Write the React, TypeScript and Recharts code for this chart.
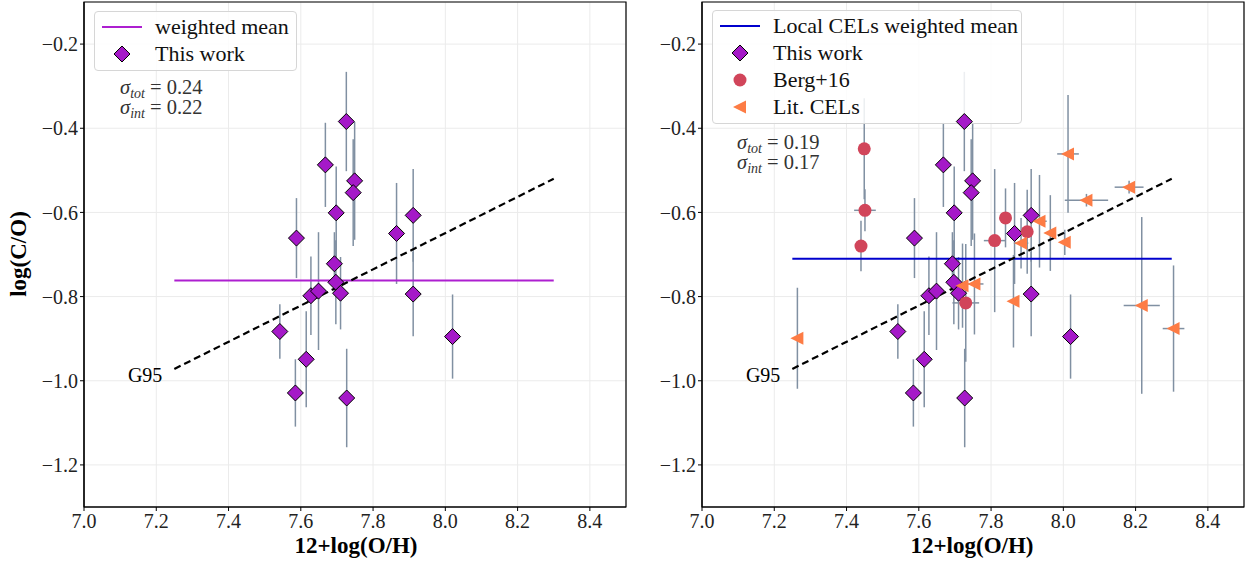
import React from 'react';
import { ScatterChart, Scatter, XAxis, YAxis, CartesianGrid, ErrorBar, ReferenceArea } from 'recharts';

// ---- data ----
const xTicks = [7.0, 7.2, 7.4, 7.6, 7.8, 8.0, 8.2, 8.4];
const yTicks = [-1.2, -1.0, -0.8, -0.6, -0.4, -0.2];
const xDomain = [7.0, 8.5];
const yDomain = [-1.3, -0.1];

const thisWorkOH = [7.726, 7.668, 7.749, 7.745, 7.698, 7.911, 7.865, 7.588, 7.693, 7.697, 7.71, 7.911, 7.628, 7.649, 7.542, 7.615, 7.585, 7.727, 8.02];
const thisWorkCO = [-0.384, -0.487, -0.525, -0.553, -0.601, -0.607, -0.65, -0.661, -0.722, -0.766, -0.792, -0.794, -0.798, -0.787, -0.883, -0.949, -1.029, -1.041, -0.895];
const thisWorkErr = [0.118, 0.1, 0.14, 0.127, 0.11, 0.11, 0.12, 0.095, 0.075, 0.1, 0.086, 0.1, 0.093, 0.14, 0.065, 0.114, 0.08, 0.117, 0.1];

const bergOH = [7.449, 7.451, 7.44, 7.84, 7.81, 7.9, 7.73];
const bergCO = [-0.449, -0.595, -0.68, -0.613, -0.667, -0.646, -0.815];
const bergXErr = [0, 0.03, 0, 0, 0.03, 0, 0.037];
const bergYErr = [0.12, 0.05, 0.06, 0.07, 0.17, 0.1, 0.14];

const litOH = [7.264, 8.013, 8.182, 8.064, 7.934, 7.964, 8.004, 7.883, 7.754, 7.721, 7.862, 8.217, 8.305];
const litCO = [-0.899, -0.461, -0.54, -0.571, -0.621, -0.649, -0.671, -0.673, -0.77, -0.774, -0.811, -0.821, -0.876];
const litXErr = [0, 0.03, 0.04, 0.06, 0.02, 0.015, 0, 0.02, 0.025, 0, 0, 0.05, 0.03];
const litYErr = [0.12, 0.14, 0.015, 0.015, 0.11, 0.09, 0.03, 0.06, 0.12, 0.1, 0.11, 0.21, 0.15];

const meanRangeOH = [7.25, 8.3];
const meanLeftCO = -0.762;
const meanRightCO = -0.71;
const g95OH = [7.25, 8.3];
const g95CO = [-0.972, -0.52];

const sigmaLeft = ['0.24', '0.22'];
const sigmaRight = ['0.19', '0.17'];

// ---- styles ----
const PURPLE = '#a519c8';
const MEAN_PURPLE = '#ad1fd0';
const BLUE = '#0000cd';
const RED = '#d1455a';
const ORANGE = '#fd7c45';
const ERR = '#8090a2';
const SERIF = '"Liberation Serif", "Times New Roman", serif';

const thisWork = thisWorkOH.map((oh, i) => ({ oh, co: thisWorkCO[i], yerr: thisWorkErr[i] }));
const berg = bergOH.map((oh, i) => ({ oh, co: bergCO[i], xerr: bergXErr[i], yerr: bergYErr[i] }));
const lit = litOH.map((oh, i) => ({ oh, co: litCO[i], xerr: litXErr[i], yerr: litYErr[i] }));
const meanLeft = meanRangeOH.map((oh) => ({ oh, co: meanLeftCO }));
const meanRight = meanRangeOH.map((oh) => ({ oh, co: meanRightCO }));
const g95 = g95OH.map((oh, i) => ({ oh, co: g95CO[i] }));
const g95Label = [{ oh: g95OH[0], co: g95CO[0] }];

const Diamond = (p: any) => {
  const { cx, cy } = p;
  const r = 8;
  return <polygon points={`${cx},${cy - r} ${cx + r},${cy} ${cx},${cy + r} ${cx - r},${cy}`} fill={PURPLE} stroke="#000" strokeWidth={1} />;
};
const Dot = (p: any) => <circle cx={p.cx} cy={p.cy} r={6.5} fill={RED} />;
const Tri = (p: any) => {
  const { cx, cy } = p;
  return <polygon points={`${cx - 7},${cy} ${cx + 6},${cy - 6.5} ${cx + 6},${cy + 6.5}`} fill={ORANGE} />;
};
const Nothing = () => <g />;
const G95Text = (p: any) => (
  <text x={p.cx - 12} y={p.cy + 13.5} textAnchor="end" fontSize={20} fill="#000">G95</text>
);

const fmt = (v: number) => (v < 0 ? '\u2212' : '') + Math.abs(v).toFixed(1);

// layer 'base': grid, axes, lines and error bars; layer 'marks': the markers only (drawn above the legend)
function Panel({ mean, meanColor, extra, layer }: { mean: any[]; meanColor: string; extra: boolean; layer: 'base' | 'marks' }) {
  const base = layer === 'base';
  const tickStyle = base ? { fontSize: 20, fill: '#222' } : false;
  return (
    <ScatterChart width={640} height={562} margin={{ top: 2, right: 14, bottom: 25, left: 0 }}>
      {base && <CartesianGrid stroke="#ebebeb" strokeWidth={1} />}
      <XAxis
        type="number"
        dataKey="oh"
        domain={xDomain}
        ticks={xTicks}
        allowDataOverflow
        height={30}
        tickFormatter={(v: number) => v.toFixed(1)}
        tick={tickStyle as any}
        tickSize={4}
        tickMargin={3}
        axisLine={base ? { stroke: '#000', strokeWidth: 1.2 } : false}
        tickLine={base ? { stroke: '#000' } : false}
      />
      <YAxis
        type="number"
        dataKey="co"
        domain={yDomain}
        ticks={yTicks}
        allowDataOverflow
        width={84}
        tickFormatter={fmt}
        tick={tickStyle as any}
        tickSize={4}
        tickMargin={2}
        axisLine={base ? { stroke: '#000', strokeWidth: 1.2 } : false}
        tickLine={base ? { stroke: '#000' } : false}
      />
      {base && <ReferenceArea x1={xDomain[0]} x2={xDomain[1]} y1={yDomain[0]} y2={yDomain[1]} fill="none" fillOpacity={0} stroke="#000" strokeWidth={1.2} />}
      {base && <Scatter data={mean} line={{ stroke: meanColor, strokeWidth: 2 }} shape={Nothing} isAnimationActive={false} />}
      {base && <Scatter data={g95} line={{ stroke: '#000', strokeWidth: 2.2, strokeDasharray: '7 4' }} shape={Nothing} isAnimationActive={false} />}
      {base && <Scatter data={g95Label} shape={G95Text} isAnimationActive={false} />}
      {base ? (
        <Scatter data={thisWork} shape={Nothing} isAnimationActive={false}>
          <ErrorBar dataKey="yerr" direction="y" width={0} stroke={ERR} strokeWidth={1.5} />
        </Scatter>
      ) : (
        <Scatter data={thisWork} shape={Diamond} isAnimationActive={false} />
      )}
      {extra && (base ? (
        <Scatter data={berg} shape={Nothing} isAnimationActive={false}>
          <ErrorBar dataKey="yerr" direction="y" width={0} stroke={ERR} strokeWidth={1.5} />
          <ErrorBar dataKey="xerr" direction="x" width={0} stroke={ERR} strokeWidth={1.5} />
        </Scatter>
      ) : (
        <Scatter data={berg} shape={Dot} isAnimationActive={false} />
      ))}
      {extra && (base ? (
        <Scatter data={lit} shape={Nothing} isAnimationActive={false}>
          <ErrorBar dataKey="yerr" direction="y" width={0} stroke={ERR} strokeWidth={1.5} />
          <ErrorBar dataKey="xerr" direction="x" width={0} stroke={ERR} strokeWidth={1.5} />
        </Scatter>
      ) : (
        <Scatter data={lit} shape={Tri} isAnimationActive={false} />
      ))}
    </ScatterChart>
  );
}

const LineIcon = ({ color }: { color: string }) => (
  <svg width={42} height={10} style={{ display: 'block' }}><line x1={1} y1={5} x2={41} y2={5} stroke={color} strokeWidth={2.2} /></svg>
);
const DiamondIcon = () => (
  <svg width={20} height={20} style={{ display: 'block' }}><polygon points="10,2 18,10 10,18 2,10" fill={PURPLE} stroke="#000" strokeWidth={1} /></svg>
);
const DotIcon = () => (
  <svg width={16} height={16} style={{ display: 'block' }}><circle cx={8} cy={8} r={6.5} fill={RED} /></svg>
);
const TriIcon = () => (
  <svg width={16} height={16} style={{ display: 'block' }}><polygon points="1,8 14,1.5 14,14.5" fill={ORANGE} /></svg>
);

function LegendBox({ left, top, width, items }: { left: number; top: number; width: number; items: { icon: React.ReactNode; label: string }[] }) {
  return (
    <div
      style={{
        position: 'absolute', left, top, width, height: items.length * 27 + 6,
        border: '1px solid #d6d6d6', borderRadius: 4, background: 'rgba(255,255,255,0.85)', boxSizing: 'border-box',
      }}
    >
      {items.map((it, i) => (
        <div key={i} style={{ position: 'absolute', left: 0, top: 1 + i * 27, height: 28, width: '100%' }}>
          <div style={{ position: 'absolute', left: 27, top: 14, transform: 'translate(-50%, -50%)' }}>{it.icon}</div>
          <div style={{ position: 'absolute', left: 60, top: 0, lineHeight: '28px', fontSize: 22, fontFamily: SERIF, color: '#111', whiteSpace: 'nowrap' }}>{it.label}</div>
        </div>
      ))}
    </div>
  );
}

const subStyle: React.CSSProperties = { fontSize: 14, fontStyle: 'italic', position: 'relative', top: 4, lineHeight: 0 };

const Sigma = ({ left, top, vals }: { left: number; top: number; vals: string[] }) => (
  <div style={{ position: 'absolute', left, top, fontFamily: SERIF, fontSize: 20.5, color: '#333', whiteSpace: 'nowrap' }}>
    <div style={{ position: 'absolute', left: 0, top: 0, height: 19, lineHeight: '19px' }}><i>σ</i><span style={subStyle}>tot</span> = {vals[0]}</div>
    <div style={{ position: 'absolute', left: 0, top: 20, height: 19, lineHeight: '19px' }}><i>σ</i><span style={subStyle}>int</span> = {vals[1]}</div>
  </div>
);

const axisTitle: React.CSSProperties = { position: 'absolute', fontFamily: SERIF, fontWeight: 'bold', fontSize: 23, color: '#000', whiteSpace: 'nowrap' };
const layerPos = (left: number): React.CSSProperties => ({ position: 'absolute', left, top: 0 });

export default function App() {
  return (
    <div style={{ position: 'absolute', left: 0, top: 0, width: 1248, height: 562, background: '#fff', overflow: 'hidden' }}>
      <style>{`svg text { font-family: "Liberation Serif", "Times New Roman", serif; }`}</style>
      <div style={layerPos(0)}>
        <Panel mean={meanLeft} meanColor={MEAN_PURPLE} extra={false} layer="base" />
      </div>
      <div style={layerPos(618)}>
        <Panel mean={meanRight} meanColor={BLUE} extra={true} layer="base" />
      </div>

      <LegendBox left={94} top={11} width={203} items={[
        { icon: <LineIcon color={MEAN_PURPLE} />, label: 'weighted mean' },
        { icon: <DiamondIcon />, label: 'This work' },
      ]} />
      <LegendBox left={712} top={10} width={310} items={[
        { icon: <LineIcon color={BLUE} />, label: 'Local CELs weighted mean' },
        { icon: <DiamondIcon />, label: 'This work' },
        { icon: <DotIcon />, label: 'Berg+16' },
        { icon: <TriIcon />, label: 'Lit. CELs' },
      ]} />

      <div style={layerPos(0)}>
        <Panel mean={meanLeft} meanColor={MEAN_PURPLE} extra={false} layer="marks" />
      </div>
      <div style={layerPos(618)}>
        <Panel mean={meanRight} meanColor={BLUE} extra={true} layer="marks" />
      </div>

      <Sigma left={120} top={78} vals={sigmaLeft} />
      <Sigma left={737} top={133} vals={sigmaRight} />

      <div style={{ ...axisTitle, left: 19, top: 254, transform: 'translate(-50%, -50%) rotate(-90deg)' }}>log(C/O)</div>
      <div style={{ ...axisTitle, left: 356, top: 546, transform: 'translate(-50%, -50%)' }}>12+log(O/H)</div>
      <div style={{ ...axisTitle, left: 972, top: 546, transform: 'translate(-50%, -50%)' }}>12+log(O/H)</div>
    </div>
  );
}
